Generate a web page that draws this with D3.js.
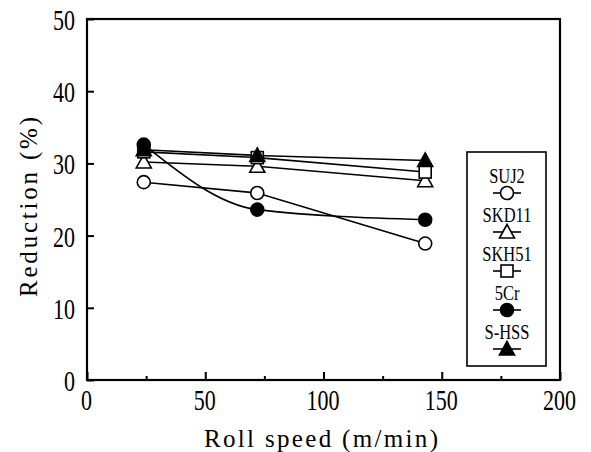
<!DOCTYPE html>
<html>
<head>
<meta charset="utf-8">
<script src="https://cdn.jsdelivr.net/npm/d3@7"></script>
<style>
  body { margin: 0; background: #fff; }
  svg text { font-family: "Liberation Serif", "DejaVu Serif", serif; fill: #000; }
</style>
</head>
<body>
<div id="chart"></div>
<script>
const speeds = [24, 72, 143];
const suj2 = [27.4, 25.9, 18.9];
const skd11 = [30.2, 29.6, 27.6];
const skh51 = [31.6, 30.8, 28.8];
const cr5 = [32.6, 23.6, 22.2];
const shss = [31.9, 31.1, 30.4];

const xTicks = [0, 50, 100, 150, 200];
const xMinor = [25, 75, 125, 175];
const yTicks = [0, 10, 20, 30, 40, 50];

const series = [
  { name: "SUJ2", values: suj2, shape: "circle", fill: "#fff", curve: d3.curveLinear },
  { name: "SKD11", values: skd11, shape: "triangle", fill: "#fff", curve: d3.curveLinear },
  { name: "SKH51", values: skh51, shape: "square", fill: "#fff", curve: d3.curveLinear },
  { name: "5Cr", values: cr5, shape: "circle", fill: "#000", curve: d3.curveMonotoneX },
  { name: "S-HSS", values: shss, shape: "triangle", fill: "#000", curve: d3.curveLinear }
];

const W = 591, H = 452;
const margin = { top: 19, right: 31, bottom: 72, left: 87 };
const width = W - margin.left - margin.right;
const height = H - margin.top - margin.bottom;

const svg = d3.select("#chart").append("svg")
  .attr("width", W)
  .attr("height", H);

const g = svg.append("g")
  .attr("transform", `translate(${margin.left},${margin.top})`);

const x = d3.scaleLinear().domain([0, 200]).range([0, width]);
const y = d3.scaleLinear().domain([0, 50]).range([height, 0]);

// frame
g.append("rect")
  .attr("width", width)
  .attr("height", height)
  .attr("fill", "none")
  .attr("stroke", "#000")
  .attr("stroke-width", 2.2);

// x axis, ticks pointing in
const xAxis = g.append("g")
  .attr("transform", `translate(0,${height})`)
  .call(d3.axisBottom(x).tickValues(xTicks).tickSize(-8).tickFormat(d3.format("d")));
xAxis.select(".domain").remove();
xAxis.selectAll("line").attr("stroke-width", 2);
xAxis.selectAll("text")
  .attr("y", 0).attr("dy", "0.35em")
  .attr("transform", "translate(-1,20) scale(1,1.35)")
  .style("font-size", "22px");

g.append("g")
  .attr("transform", `translate(0,${height})`)
  .call(d3.axisBottom(x).tickValues(xMinor).tickSize(-4).tickFormat(""))
  .call(a => a.select(".domain").remove())
  .selectAll("line").attr("stroke-width", 2);

const yAxis = g.append("g")
  .call(d3.axisLeft(y).tickValues(yTicks).tickSize(-7).tickFormat(d3.format("d")));
yAxis.select(".domain").remove();
yAxis.selectAll("line").attr("stroke-width", 2);
yAxis.selectAll("text")
  .attr("x", 0).attr("dy", "0.35em")
  .attr("transform", "translate(-12,0) scale(1,1.35)")
  .style("font-size", "22px");

// axis titles
svg.append("text")
  .attr("x", 204)
  .attr("y", 447)
  .attr("textLength", 234)
  .attr("lengthAdjust", "spacing")
  .style("font-size", "25px")
  .text("Roll speed (m/min)");

svg.append("text")
  .attr("transform", "translate(37,297) rotate(-90)")
  .attr("textLength", 180)
  .attr("lengthAdjust", "spacing")
  .style("font-size", "25px")
  .text("Reduction (%)");

// lines
series.forEach(s => {
  const line = d3.line()
    .x((d, i) => x(speeds[i]))
    .y(d => y(d))
    .curve(s.curve);
  g.append("path")
    .datum(s.values)
    .attr("d", line)
    .attr("fill", "none")
    .attr("stroke", "#000")
    .attr("stroke-width", 1.6);
});

function drawMarker(sel, shape, fill) {
  if (shape === "circle") {
    sel.append("circle").attr("r", 6.5);
  } else if (shape === "triangle") {
    sel.append("path").attr("d", "M0,-7.5L7.5,6L-7.5,6Z");
  } else {
    sel.append("rect").attr("x", -6).attr("y", -6).attr("width", 12).attr("height", 12);
  }
  sel.selectAll("*")
    .attr("fill", fill)
    .attr("stroke", "#000")
    .attr("stroke-width", 1.6);
}

// markers
series.forEach(s => {
  s.values.forEach((v, i) => {
    const m = g.append("g").attr("transform", `translate(${x(speeds[i])},${y(v)})`);
    drawMarker(m, s.shape, s.fill);
  });
});

// legend
const legend = svg.append("g").attr("transform", "translate(467,152)");
legend.append("rect")
  .attr("width", 79)
  .attr("height", 214)
  .attr("fill", "#fff")
  .attr("stroke", "#000")
  .attr("stroke-width", 1.6);

series.forEach((s, i) => {
  const cy = 24 + i * 39;
  legend.append("text")
    .attr("text-anchor", "middle")
    .attr("dy", "0.35em")
    .attr("transform", `translate(40,${cy}) scale(1,1.25)`)
    .style("font-size", "16.5px")
    .text(s.name);
  legend.append("line")
    .attr("x1", 26).attr("x2", 54)
    .attr("y1", cy + 17).attr("y2", cy + 17)
    .attr("stroke", "#000")
    .attr("stroke-width", 1.6);
  const m = legend.append("g").attr("transform", `translate(40,${cy + 17})`);
  drawMarker(m, s.shape, s.fill);
});
</script>
</body>
</html>
